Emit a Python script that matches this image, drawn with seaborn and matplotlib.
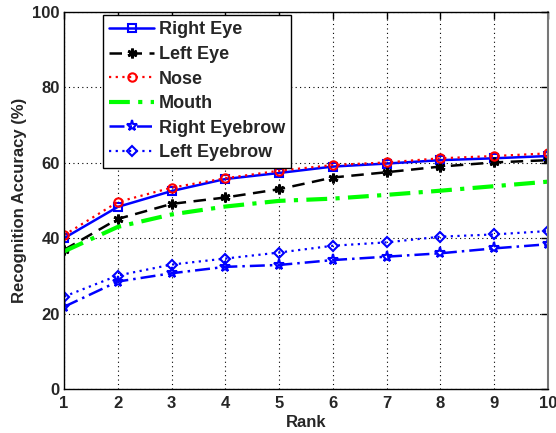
import matplotlib
matplotlib.use("Agg")
import matplotlib.pyplot as plt
import seaborn as sns
import pandas as pd

rank = [1, 2, 3, 4, 5, 6, 7, 8, 9, 10]
right_eye = [40.0, 48.3, 52.5, 55.7, 57.3, 59.0, 59.8, 60.7, 61.2, 61.8]
left_eye = [36.9, 45.1, 49.1, 50.8, 53.0, 56.1, 57.5, 59.0, 60.1, 60.7]
nose = [40.8, 49.6, 53.4, 55.9, 57.9, 59.4, 60.1, 61.2, 61.8, 62.5]
mouth = [36.5, 43.0, 46.3, 48.4, 49.9, 50.5, 51.5, 52.6, 53.8, 55.0]
right_eyebrow = [21.8, 28.5, 30.7, 32.4, 32.9, 34.2, 35.1, 36.0, 37.3, 38.4]
left_eyebrow = [24.5, 30.1, 33.0, 34.6, 36.2, 38.0, 38.9, 40.4, 41.0, 41.9]

series = {
    "Right Eye": right_eye,
    "Left Eye": left_eye,
    "Nose": nose,
    "Mouth": mouth,
    "Right Eyebrow": right_eyebrow,
    "Left Eyebrow": left_eyebrow,
}

styles = {
    "Right Eye": dict(color="#0000ff", linestyle="-", marker="s", mfc="none", mec="#0000ff", ms=6, mew=1.5, lw=1.8),
    "Left Eye": dict(color="black", linestyle=(0, (5, 3)), marker=(6, 2, 0), mec="black", ms=7, mew=2.0, lw=1.8),
    "Nose": dict(color="red", linestyle=(0, (1, 2)), marker="o", mfc="none", mec="red", ms=6, mew=1.5, lw=1.6),
    "Mouth": dict(color="#00ff00", linestyle=(0, (5, 2, 1, 2)), marker=None, lw=3.0),
    "Right Eyebrow": dict(color="#0000ff", linestyle=(0, (6, 2, 1, 2)), marker="*", mfc="none", mec="#0000ff", ms=8, mew=1.5, lw=1.8),
    "Left Eyebrow": dict(color="#0000ff", linestyle=(0, (1, 2)), marker="D", mfc="none", mec="#0000ff", ms=5.5, mew=1.5, lw=1.6),
}

sns.set_theme(style="white")
plt.rcParams['font.family'] = ['Liberation Sans', 'DejaVu Sans']

fig = plt.figure(figsize=(5.56, 4.33), dpi=100)
ax = fig.add_axes([64/556, 1 - 389/433, 484/556, 377/433])

for name, vals in series.items():
    df = pd.DataFrame({"Rank": rank, "Acc": vals})
    st = dict(styles[name])
    color = st.pop("color")
    ls = st.pop("linestyle")
    sns.lineplot(data=df, x="Rank", y="Acc", ax=ax, color=color, linestyle=ls,
                 label=name, **st)

ax.set_xlim(1, 10)
ax.set_ylim(0, 100)
ax.set_xticks(rank)
ax.set_yticks([0, 20, 40, 60, 80, 100])
ax.tick_params(direction="in", top=True, right=True, length=5, width=1, color="black",
               labelsize=12, pad=3)
ax.tick_params(axis="x", pad=5)
for lab in ax.get_xticklabels() + ax.get_yticklabels():
    lab.set_fontweight("bold")
ax.grid(True, linestyle=(0, (1, 3)), color="black", linewidth=0.8)
for s in ax.spines.values():
    s.set_color("black")
    s.set_linewidth(1.0)
ax.spines["right"].set_color("#777777")
ax.spines["right"].set_linewidth(1.5)
ax.set_xlabel("Rank", fontsize=12, fontweight="bold", labelpad=3)
ax.set_ylabel("Recognition Accuracy (%)", fontsize=12, fontweight="bold", labelpad=4)

leg = ax.legend(loc="upper left", bbox_to_anchor=(0.08, 0.992), frameon=True, fancybox=False,
                edgecolor="black", framealpha=1, borderaxespad=0, handlelength=2.5,
                handletextpad=0.25, labelspacing=0.42, borderpad=0.35,
                prop={"size": 13, "weight": "bold"})
leg.get_frame().set_linewidth(1.0)

fig.savefig("out.png", dpi=100)
